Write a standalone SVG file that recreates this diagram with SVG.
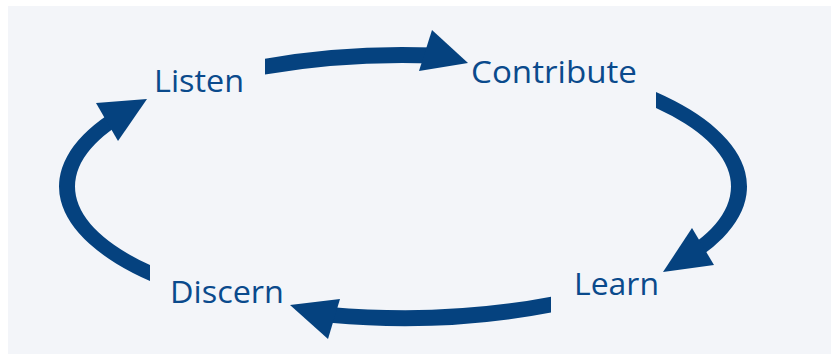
<svg xmlns="http://www.w3.org/2000/svg" width="831" height="359" viewBox="0 0 831 359">
  <style>
    .arrow { fill: #05427F; }
    .label { font-family: "Open Sans", "Liberation Sans", sans-serif; font-size: 31px; fill: #0A4A8C; }
  </style>
  <rect x="0" y="0" width="831" height="359" fill="#FFFFFF"/>
  <rect x="8" y="6" width="823" height="348" fill="#F3F5F9"/>
  <g id="connectors">
    <g id="arrow-listen-contribute">
      <path class="arrow" d="M265,58.7 A344,139.5 0 0 1 435,47.6 L435,63.6 A328,123.5 0 0 0 265,74.5 Z"/>
      <polygon class="arrow" points="468,63 432,30 419,71"/>
    </g>
    <g id="arrow-contribute-learn">
      <path class="arrow" d="M656,92 A344,139.5 0 0 1 698.4,258 L684.3,250 A328,123.5 0 0 0 656,107.9 Z"/>
      <polygon class="arrow" points="663,272 692,228 714,265"/>
    </g>
    <g id="arrow-learn-discern">
      <path class="arrow" d="M551,312.4 A344,139.5 0 0 1 330,322.8 L330,306.9 A328,123.5 0 0 0 551,296.7 Z"/>
      <polygon class="arrow" points="290,305 340,299 328,339"/>
    </g>
    <g id="arrow-discern-listen">
      <path class="arrow" d="M150,281 A344,139.5 0 0 1 107.6,115 L121.7,123 A328,123.5 0 0 0 150,265.1 Z"/>
      <polygon class="arrow" points="147,99 96,103 118,141"/>
    </g>
  </g>
  <g id="node-listen"><text class="label" x="154" y="92" textLength="90" lengthAdjust="spacingAndGlyphs">Listen</text></g>
  <g id="node-contribute"><text class="label" x="471" y="83" textLength="166" lengthAdjust="spacingAndGlyphs">Contribute</text></g>
  <g id="node-learn"><text class="label" x="574" y="295" textLength="85" lengthAdjust="spacingAndGlyphs">Learn</text></g>
  <g id="node-discern"><text class="label" x="170" y="303" textLength="114" lengthAdjust="spacingAndGlyphs">Discern</text></g>
</svg>
